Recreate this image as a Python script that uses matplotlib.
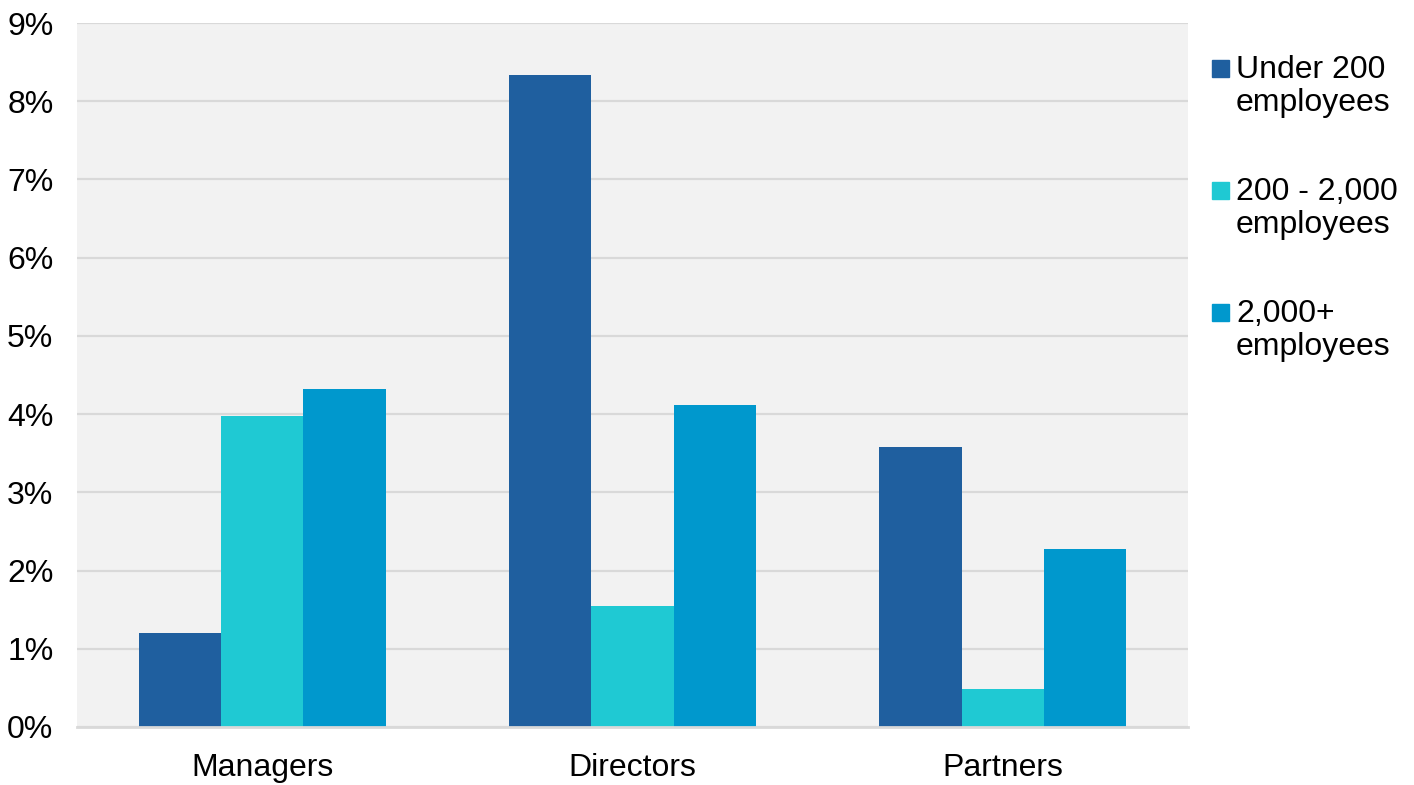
import matplotlib
matplotlib.use("Agg")
import matplotlib.pyplot as plt
import numpy as np
from matplotlib.ticker import FuncFormatter
from matplotlib.patches import Rectangle

plt.rcParams['font.family'] = ['Liberation Sans', 'DejaVu Sans']

categories = ["Managers", "Directors", "Partners"]
series_names = ["Under 200\nemployees", "200 - 2,000\nemployees", "2,000+\nemployees"]
under_200 = [1.20, 8.34, 3.58]
mid_size = [3.98, 1.55, 0.49]
large = [4.32, 4.12, 2.28]
colors = ["#1F5F9F", "#1FC9D3", "#0098CD"]
yticks = [0, 1, 2, 3, 4, 5, 6, 7, 8, 9]

W, H = 1414, 785
fig = plt.figure(figsize=(W / 100, H / 100), dpi=100)
ax = fig.add_axes([77 / W, 1 - 727 / H, (1188 - 77) / W, (727 - 23) / H])
ax.set_facecolor("#F2F2F2")

x = np.arange(len(categories))
bw = 1 / 4.5
for i, (vals, name, c) in enumerate(zip([under_200, mid_size, large], series_names, colors)):
    ax.bar(x + (i - 1) * bw, vals, width=bw, color=c, label=name, zorder=3)

ax.set_xlim(-0.5, 2.5)
ax.set_ylim(0, 9)
ax.set_yticks(yticks)
ax.yaxis.set_major_formatter(FuncFormatter(lambda v, p: f"{int(v)}%"))
ax.set_xticks(x)
ax.set_xticklabels(categories)
ax.grid(axis="y", color="#D9D9D9", linewidth=1.6, zorder=0)
for s in ["top", "right", "left"]:
    ax.spines[s].set_visible(False)
ax.spines["bottom"].set_color("#D9D9D9")
ax.spines["bottom"].set_linewidth(2)
ax.spines["bottom"].set_zorder(4)
ax.tick_params(axis="both", length=0, labelsize=23, colors="black")
ax.tick_params(axis="y", pad=17)
ax.tick_params(axis="x", pad=19)

# Legend drawn as squares + two-line labels, swatch aligned with the first line
entry_rows = [68, 190, 312]
for name, c, yc in zip(series_names, colors, entry_rows):
    fig.patches.append(Rectangle((1212 / W, 1 - (yc + 8.5) / H), 17 / W, 17 / H,
                                 transform=fig.transFigure, color=c))
    fig.text(1236 / W, 1 - (yc - 13) / H, name, fontsize=23, va="top", ha="left",
             linespacing=1.12)

fig.savefig("out.png", dpi=100, facecolor="white")
